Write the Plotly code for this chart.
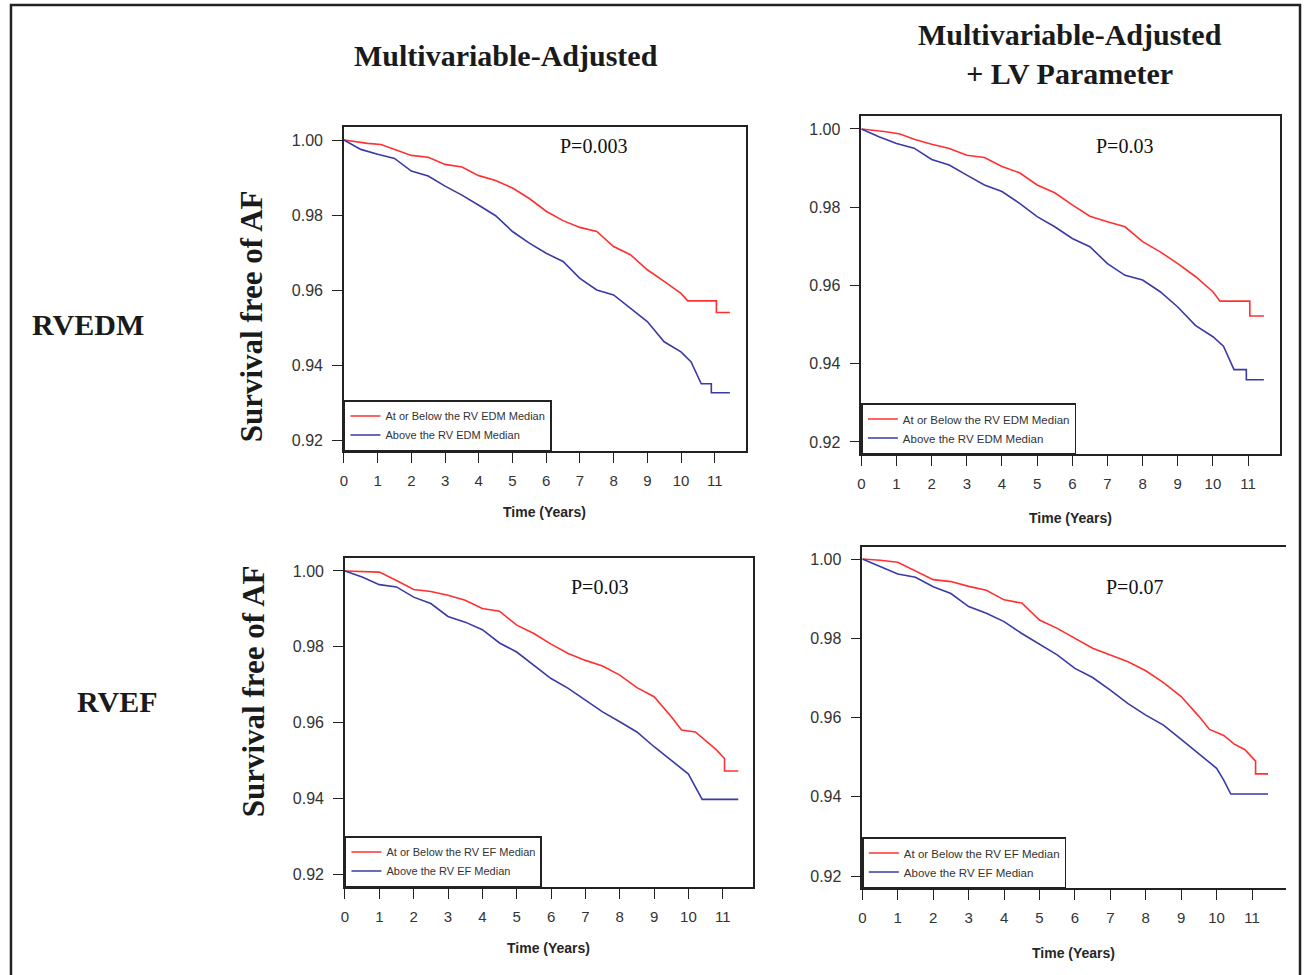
import plotly.graph_objects as go

# ---------------- data ----------------
# Panel A: RVEDM, multivariable-adjusted
a_red_t = [0, 0.7, 1.1, 1.5, 2, 2.5, 3, 3.5, 4, 4.5, 5, 5.5, 6, 6.5, 7, 7.5, 8, 8.5, 9, 9.5, 10, 10.2, 11.05, 11.05, 11.45]
a_red_s = [1.0, 0.9991, 0.9988, 0.9975, 0.9959, 0.9954, 0.9935, 0.9928, 0.9905, 0.9892, 0.9872, 0.9844, 0.9810, 0.9785,
           0.9767, 0.9756, 0.9716, 0.9694, 0.9654, 0.9623, 0.9591, 0.9571, 0.9571, 0.9540, 0.9540]
a_blue_t = [0, 0.5, 1, 1.5, 2, 2.5, 3, 3.5, 4, 4.5, 5, 5.5, 6, 6.5, 7, 7.5, 8, 8.5, 9, 9.5, 10, 10.3, 10.6, 10.9, 10.9, 11.45]
a_blue_s = [1.0, 0.9975, 0.9962, 0.9951, 0.9917, 0.9904, 0.9877, 0.9853, 0.9826, 0.9798, 0.9756, 0.9725, 0.9698, 0.9676,
            0.9631, 0.9600, 0.9587, 0.9551, 0.9516, 0.9462, 0.9435, 0.9408, 0.9350, 0.9350, 0.9326, 0.9326]

# Panel B: RVEDM, multivariable-adjusted + LV parameter
b_red_t = [0, 0.7, 1.1, 1.5, 2, 2.5, 3, 3.5, 4, 4.5, 5, 5.5, 6, 6.5, 7, 7.5, 8, 8.5, 9, 9.5, 10, 10.2, 11.05, 11.05, 11.45]
b_red_s = [1.0, 0.9993, 0.9987, 0.9974, 0.9961, 0.9950, 0.9933, 0.9927, 0.9904, 0.9888, 0.9857, 0.9837, 0.9806, 0.9777,
           0.9763, 0.9750, 0.9712, 0.9686, 0.9656, 0.9623, 0.9584, 0.9560, 0.9560, 0.9522, 0.9522]
b_blue_t = [0, 0.5, 1, 1.5, 2, 2.5, 3, 3.5, 4, 4.5, 5, 5.5, 6, 6.5, 7, 7.5, 8, 8.5, 9, 9.5, 10, 10.3, 10.6, 10.95, 10.95, 11.45]
b_blue_s = [1.0, 0.9980, 0.9963, 0.9951, 0.9922, 0.9908, 0.9882, 0.9857, 0.9840, 0.9810, 0.9776, 0.9750, 0.9720, 0.9699,
            0.9656, 0.9626, 0.9614, 0.9584, 0.9545, 0.9498, 0.9469, 0.9445, 0.9385, 0.9385, 0.9359, 0.9359]

# Panel C: RVEF, multivariable-adjusted
c_red_t = [0, 1, 1.5, 2, 2.5, 3, 3.5, 4, 4.5, 5, 5.5, 6, 6.5, 7, 7.5, 8, 8.5, 9, 9.5, 9.8, 10.2, 10.5, 10.8, 11.05, 11.05, 11.45]
c_red_s = [1.0, 0.9997, 0.9975, 0.9951, 0.9946, 0.9936, 0.9923, 0.9901, 0.9894, 0.9857, 0.9835, 0.9807, 0.9782, 0.9764,
           0.9749, 0.9725, 0.9692, 0.9668, 0.9615, 0.9580, 0.9575, 0.9553, 0.9529, 0.9505, 0.9472, 0.9472]
c_blue_t = [0, 0.5, 1, 1.5, 2, 2.5, 3, 3.5, 4, 4.5, 5, 5.5, 6, 6.5, 7, 7.5, 8, 8.5, 9, 9.5, 10, 10.2, 10.4, 11.45]
c_blue_s = [1.0, 0.9984, 0.9964, 0.9958, 0.9931, 0.9914, 0.9880, 0.9865, 0.9845, 0.9810, 0.9786, 0.9751, 0.9716, 0.9690,
            0.9659, 0.9628, 0.9602, 0.9575, 0.9536, 0.9501, 0.9464, 0.9430, 0.9397, 0.9397]

# Panel D: RVEF, multivariable-adjusted + LV parameter
d_red_t = [0, 0.5, 1, 1.5, 2, 2.5, 3, 3.5, 4, 4.5, 5, 5.5, 6, 6.5, 7, 7.5, 8, 8.5, 9, 9.5, 9.8, 10.2, 10.5, 10.8, 11.1, 11.1, 11.45]
d_red_s = [1.0, 0.9997, 0.9992, 0.9971, 0.9948, 0.9943, 0.9931, 0.9921, 0.9897, 0.9889, 0.9846, 0.9825, 0.9800, 0.9775,
           0.9758, 0.9741, 0.9718, 0.9688, 0.9653, 0.9603, 0.9570, 0.9555, 0.9533, 0.9519, 0.9490, 0.9458, 0.9458]
d_blue_t = [0, 0.5, 1, 1.5, 2, 2.5, 3, 3.5, 4, 4.5, 5, 5.5, 6, 6.5, 7, 7.5, 8, 8.5, 9, 9.5, 10, 10.2, 10.4, 11.45]
d_blue_s = [1.0, 0.9981, 0.9962, 0.9954, 0.9930, 0.9913, 0.9880, 0.9863, 0.9842, 0.9812, 0.9785, 0.9758, 0.9724, 0.9701,
            0.9669, 0.9635, 0.9606, 0.9581, 0.9545, 0.9509, 0.9472, 0.9442, 0.9407, 0.9407]

x_ticks = list(range(0, 12))
y_ticks = [0.92, 0.94, 0.96, 0.98, 1.00]
y_ticktext = ["0.92", "0.94", "0.96", "0.98", "1.00"]

col_titles = ["<b>Multivariable-Adjusted</b>", "<b>Multivariable-Adjusted<br>+ LV Parameter</b>"]
row_labels = ["<b>RVEDM</b>", "<b>RVEF</b>"]
y_title = "<b>Survival free of AF</b>"
x_title = "<b>Time (Years)</b>"
p_values = ["P=0.003", "P=0.03", "P=0.03", "P=0.07"]
legend_edm = ["At or Below the RV EDM Median", "Above the RV EDM Median"]
legend_ef = ["At or Below the RV EF Median", "Above the RV EF Median"]

RED = "#FF3030"
BLUE = "#3A3AA6"
AX = "#222222"
TXT = "#333333"

# ---------------- layout helpers ----------------
W, H = 1304, 975
DX = -2  # small horizontal correction of the rendered page


def fx(x):
    return (x + DX) / W


def fy(y):
    return 1 - y / H


panels = [
    dict(red=(a_red_t, a_red_s), blue=(a_blue_t, a_blue_s), leg=legend_edm,
         box=(343, 746, 127, 451), xr=[0, 11.92], yr=[0.91707, 1.00347], right=True,
         p=(593, 146), xt=(544, 512), lfs=11),
    dict(red=(b_red_t, b_red_s), blue=(b_blue_t, b_blue_s), leg=legend_edm,
         box=(862, 1282, 116, 454), xr=[0, 11.91], yr=[0.91693, 1.00332], right=True,
         p=(1126, 146), xt=(1072, 518), lfs=11.5),
    dict(red=(c_red_t, c_red_s), blue=(c_blue_t, c_blue_s), leg=legend_ef,
         box=(344, 753, 558, 887), xr=[0, 11.87], yr=[0.91657, 1.00343], right=True,
         p=(599, 587), xt=(548, 948), lfs=11),
    dict(red=(d_red_t, d_red_s), blue=(d_blue_t, d_blue_s), leg=legend_ef,
         box=(863, 1288, 547, 888), xr=[0, 11.96], yr=[0.9170, 1.00303], right=False,
         p=(1136, 587), xt=(1075, 953), lfs=11.5),
]

fig = go.Figure()
annotations = []

for i, p in enumerate(panels, start=1):
    sfx = "" if i == 1 else str(i)
    legname = "legend" if i == 1 else f"legend{i}"
    x0, x1, y0, y1 = p["box"]
    for (t, s), colr, name in ((p["red"], RED, p["leg"][0]), (p["blue"], BLUE, p["leg"][1])):
        fig.add_trace(go.Scatter(
            x=t, y=s, mode="lines", name=name,
            line=dict(color=colr, width=1.6),
            xaxis="x" + sfx, yaxis="y" + sfx, legend=legname,
            hoverinfo="skip",
        ))
    fig.layout["xaxis" + sfx] = dict(
        domain=[fx(x0), fx(x1)], range=p["xr"], anchor="y" + sfx,
        showline=True, linecolor=AX, linewidth=1.5, mirror=True,
        ticks="outside", ticklen=10, tickwidth=1.3, tickcolor=AX,
        tickvals=x_ticks, ticktext=[str(v) for v in x_ticks],
        tickfont=dict(family="Liberation Sans, Arial", size=15, color=TXT),
        ticklabelstandoff=5,
        showgrid=False, zeroline=False, fixedrange=True,
    )
    fig.layout["yaxis" + sfx] = dict(
        domain=[fy(y1), fy(y0)], range=p["yr"], anchor="x" + sfx,
        showline=True, linecolor=AX, linewidth=1.5, mirror=p["right"],
        ticks="outside", ticklen=10, tickwidth=1.3, tickcolor=AX,
        tickvals=y_ticks, ticktext=y_ticktext,
        tickfont=dict(family="Liberation Sans, Arial", size=16, color=TXT),
        ticklabelstandoff=6,
        showgrid=False, zeroline=False, fixedrange=True,
    )
    fig.layout[legname] = dict(
        x=fx(x0), y=fy(y1), xanchor="left", yanchor="bottom", xref="paper", yref="paper",
        bgcolor="white", bordercolor=AX, borderwidth=1.5,
        font=dict(family="Liberation Sans, Arial", size=p["lfs"], color=TXT),
        tracegroupgap=0, itemwidth=30, traceorder="normal",
    )
    annotations.append(dict(
        text=p_values[i - 1], x=fx(p["p"][0]), y=fy(p["p"][1]), xref="paper", yref="paper",
        showarrow=False, xanchor="center", yanchor="middle",
        font=dict(family="Liberation Serif, Times New Roman", size=20, color="#111111"),
    ))
    annotations.append(dict(
        text=x_title, x=fx(p["xt"][0]), y=fy(p["xt"][1]), xref="paper", yref="paper",
        showarrow=False, xanchor="center", yanchor="middle",
        font=dict(family="Liberation Sans, Arial", size=14, color="#262626"),
    ))

# column titles
for txt, (cx, cy) in zip(col_titles, [(506, 56), (1071, 54)]):
    annotations.append(dict(
        text=txt, x=fx(cx), y=fy(cy), xref="paper", yref="paper", showarrow=False,
        xanchor="center", yanchor="middle",
        font=dict(family="Liberation Serif, Times New Roman", size=30, color="#1a1a1a"),
    ))
# row labels
for txt, (cx, cy) in zip(row_labels, [(86, 325), (116, 701)]):
    annotations.append(dict(
        text=txt, x=fx(cx), y=fy(cy), xref="paper", yref="paper", showarrow=False,
        xanchor="center", yanchor="middle",
        font=dict(family="Liberation Serif, Times New Roman", size=30, color="#1a1a1a"),
    ))
# y-axis titles (left column)
for (cx, cy) in [(250, 316), (252, 691)]:
    annotations.append(dict(
        text=y_title, x=fx(cx), y=fy(cy), xref="paper", yref="paper", showarrow=False,
        xanchor="center", yanchor="middle", textangle=-90,
        font=dict(family="Liberation Serif, Times New Roman", size=31, color="#1a1a1a"),
    ))

fig.update_layout(
    width=W, height=H, autosize=False,
    margin=dict(l=0, r=0, t=0, b=0),
    paper_bgcolor="white", plot_bgcolor="white",
    annotations=annotations,
    shapes=[dict(type="rect", xref="paper", yref="paper",
                 x0=fx(9), x1=fx(1302), y0=fy(1000), y1=fy(5),
                 line=dict(color=AX, width=2.5), fillcolor="rgba(0,0,0,0)", layer="above")],
)

fig.write_html(
    "out.html",
    config={"displayModeBar": False},
    post_script="document.body.style.margin='0px';document.body.style.overflow='hidden';",
)
